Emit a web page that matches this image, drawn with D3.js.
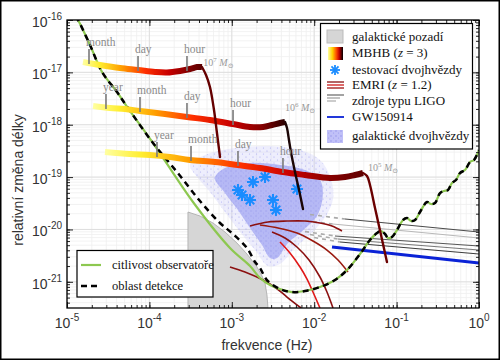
<!DOCTYPE html>
<html><head><meta charset="utf-8">
<script src="https://cdn.jsdelivr.net/npm/d3@7"></script>
<style>body{margin:0;background:#fff}svg{display:block}
.serif{font-family:"Liberation Serif","DejaVu Serif",serif}
.sans{font-family:"Liberation Sans","DejaVu Sans",sans-serif}
</style>
</head><body>
<svg id="c" width="500" height="360"></svg>
<script>
// ---------- data (log10 frequency [Hz], log10 strain) ----------
const xTickExps=[-5,-4,-3,-2,-1,0];
const yTickExps=[-16,-17,-18,-19,-20,-21];

const sensitivity=[[-4.90,-15.93],[-4.867,-16.000],[-4.721,-16.477],[-4.575,-16.993],[-4.393,-17.375],[-4.260,-17.681],[-3.956,-18.349],[-3.471,-19.476],[-3.022,-20.354],[-2.779,-20.698],[-2.658,-20.927],[-2.536,-21.061],[-2.379,-21.157],[-2.269,-21.195],[-2.112,-21.176],[-1.930,-21.099],[-1.748,-20.966],[-1.602,-20.775],[-1.444,-20.469],[-1.323,-20.202],[-1.238,-20.068],[-1.189,-20.030],[-1.141,-20.087],[-1.104,-20.163],[-1.056,-20.144],[-0.995,-20.011],[-0.922,-19.820],[-0.874,-19.781],[-0.825,-19.839],[-0.777,-19.820],[-0.716,-19.667],[-0.631,-19.476],[-0.583,-19.514],[-0.534,-19.495],[-0.473,-19.304],[-0.425,-19.266],[-0.376,-19.247],[-0.328,-19.113],[-0.279,-19.056],[-0.231,-18.922],[-0.170,-18.865],[-0.109,-18.712],[-0.061,-18.674],[0,-18.483]];

const detection=[[-4.90,-15.93],[-4.867,-16.000],[-4.721,-16.477],[-4.575,-16.993],[-4.393,-17.375],[-4.260,-17.681],[-3.956,-18.349],[-3.665,-18.903],[-3.386,-19.457],[-3.143,-19.877],[-2.985,-20.087],[-2.816,-20.354],[-2.718,-20.622],[-2.658,-20.736],[-2.573,-20.966],[-2.415,-21.137],[-2.269,-21.195],[-2.112,-21.176],[-1.930,-21.099],[-1.748,-20.966],[-1.602,-20.775],[-1.444,-20.469],[-1.323,-20.202],[-1.238,-20.068],[-1.189,-20.030],[-1.141,-20.087],[-1.104,-20.163],[-1.056,-20.144],[-0.995,-20.011],[-0.922,-19.820],[-0.874,-19.781],[-0.825,-19.839],[-0.777,-19.820],[-0.716,-19.667],[-0.631,-19.476],[-0.583,-19.514],[-0.534,-19.495],[-0.473,-19.304],[-0.425,-19.266],[-0.376,-19.247],[-0.328,-19.113],[-0.279,-19.056],[-0.231,-18.922],[-0.170,-18.865],[-0.109,-18.712],[-0.061,-18.674],[0,-18.483]];

const galacticBackground=[[-3.532,-19.667],[-3.386,-19.743],[-3.228,-19.877],[-3.083,-20.049],[-2.937,-20.259],[-2.816,-20.469],[-2.694,-20.717],[-2.633,-20.889],[-2.597,-21.023],[-2.573,-21.252],[-2.561,-21.500]];

const binaryCore=[[-3.204,-19.018],[-3.083,-18.827],[-2.779,-18.731],[-2.415,-18.769],[-2.112,-18.865],[-1.930,-19.056],[-1.895,-19.342],[-1.960,-19.724],[-2.130,-20.011],[-2.318,-20.259],[-2.451,-20.545],[-2.536,-20.545],[-2.633,-20.297],[-2.779,-19.973],[-2.925,-19.629],[-3.083,-19.304]];
const binaryHalo=[[-3.507,-18.769],[-3.325,-18.578],[-2.961,-18.445],[-2.536,-18.406],[-2.172,-18.483],[-1.930,-18.674],[-1.800,-19.018],[-1.770,-19.400],[-1.850,-19.724],[-2.020,-20.049],[-2.233,-20.354],[-2.415,-20.660],[-2.561,-20.698],[-2.718,-20.393],[-2.900,-20.049],[-3.083,-19.667],[-3.265,-19.285],[-3.410,-19.018]];

const verificationBinaries=[[-2.743,-19.094],[-2.597,-18.998],[-2.925,-19.247],[-2.876,-19.342],[-2.779,-19.438],[-2.500,-19.438],[-2.464,-19.629],[-2.209,-19.228]];

const mbhbInspiral1=[[-4.806,-16.802],[-4.600,-16.859],[-4.357,-16.917],[-4.138,-16.955],[-3.932,-16.993],[-3.786,-17.003],[-3.629,-16.974],[-3.507,-16.936],[-3.422,-16.898],[-3.362,-16.898]];
const mbhbMerger1=[[-3.362,-16.898],[-3.313,-17.050],[-3.265,-17.280],[-3.216,-17.719],[-3.180,-18.158],[-3.143,-18.616]];
const mbhbInspiral2=[[-4.684,-17.642],[-4.478,-17.681],[-4.296,-17.700],[-4.114,-17.738],[-3.811,-17.795],[-3.544,-17.853],[-3.265,-17.910],[-2.985,-17.986],[-2.779,-18.044],[-2.621,-18.044],[-2.512,-18.005],[-2.415,-17.967],[-2.354,-17.948]];
const mbhbMerger2=[[-2.354,-17.948],[-2.330,-18.063],[-2.306,-18.292],[-2.282,-18.521],[-2.233,-18.903],[-2.184,-19.247],[-2.136,-19.610]];
const mbhbInspiral3=[[-4.539,-18.521],[-4.235,-18.559],[-3.993,-18.578],[-3.750,-18.616],[-3.507,-18.674],[-3.204,-18.712],[-2.925,-18.769],[-2.658,-18.827],[-2.379,-18.903],[-2.112,-18.960],[-1.808,-19.018],[-1.626,-18.998],[-1.505,-18.960],[-1.408,-18.922]];
const mbhbMerger3=[[-1.408,-18.922],[-1.359,-18.979],[-1.323,-19.151],[-1.262,-19.591],[-1.189,-20.106],[-1.117,-20.622]];

const timeLabels1=[["month",-4.733,-16.821],["day",-4.138,-16.955],["hour",-3.544,-16.955]];
const timeLabels2=[["year",-4.527,-17.681],["month",-4.114,-17.738],["day",-3.544,-17.853],["hour",-2.985,-17.986]];
const timeLabels3=[["year",-3.908,-18.597],["month",-3.495,-18.674],["day",-2.925,-18.769],["hour",-2.379,-18.903]];
const massLabels=[["7",-3.345,-16.88],["6",-2.354,-17.74],["5",-1.347,-18.88]];

const emri1=[[-2.779,-19.934],[-2.561,-19.858],[-2.330,-19.839],[-2.112,-19.839],[-1.930,-19.877],[-1.784,-19.934],[-1.663,-20.030]];
const emri2=[[-2.658,-19.915],[-2.439,-19.973],[-2.209,-20.068],[-2.015,-20.221],[-1.845,-20.393],[-1.711,-20.584],[-1.590,-20.813]];
const emri3=[[-2.512,-20.049],[-2.354,-20.163],[-2.209,-20.335],[-2.063,-20.584],[-1.930,-20.908],[-1.845,-21.195],[-1.772,-21.500]];
const emri4=[[-2.415,-20.240],[-2.294,-20.450],[-2.172,-20.717],[-2.087,-20.947],[-2.015,-21.195],[-1.930,-21.500]];
const emri5=[[-3.022,-20.717],[-2.840,-20.813],[-2.621,-20.966],[-2.464,-21.118],[-2.330,-21.290],[-2.160,-21.500]];

// LIGO-type sources: [dash start, solid start, end]
const ligo1=[[-2.050,-19.715],[-1.626,-19.801],[0,-20.049]];
const ligo2=[[-2.112,-19.830],[-1.772,-19.896],[0,-20.163]];
const ligo3=[[-2.112,-20.040],[-1.748,-20.125],[0,-20.316]];
const ligo4=[[-2.051,-20.097],[-1.711,-20.183],[0,-20.393]];
const ligo5=[[-2.000,-20.154],[-1.687,-20.240],[0,-20.469]];
const gw150914=[[-1.784,-20.335],[0,-20.641]];

const legendLabels=["galaktické pozadí","MBHB","testovací dvojhvězdy","EMRI","zdroje typu LIGO","GW150914","galaktické dvojhvězdy"];
const legend2Labels=["citlivost observatoře","oblast detekce"];

// ---------- drawing ----------
const svg=d3.select("#c");
const L=67,R=479,T=20,B=308;
const x=d3.scaleLog().domain([1e-5,1]).range([L,R]);
const y=d3.scaleLog().domain([Math.pow(10,-21.5),1e-16]).range([B,T]);
const X=d=>x(Math.pow(10,d[0])), Y=d=>y(Math.pow(10,d[1]));
const cr=d3.line().x(X).y(Y).curve(d3.curveCatmullRom.alpha(0.5));
const lin=d3.line().x(X).y(Y);
const closed=d3.line().x(X).y(Y).curve(d3.curveCatmullRomClosed.alpha(0.5));

const defs=svg.append("defs");
defs.append("clipPath").attr("id","clip").append("rect").attr("x",L).attr("y",T).attr("width",R-L).attr("height",B-T);
const pat=defs.append("pattern").attr("id","dots").attr("patternUnits","userSpaceOnUse").attr("width",5).attr("height",5);
pat.append("circle").attr("cx",1).attr("cy",1).attr("r",0.7).attr("fill","#8c8ce6");
pat.append("circle").attr("cx",3.5).attr("cy",3).attr("r",0.6).attr("fill","#9a9aee");
const pat2=defs.append("pattern").attr("id","sparse").attr("patternUnits","userSpaceOnUse").attr("width",7).attr("height",6);
pat2.append("circle").attr("cx",1).attr("cy",1).attr("r",0.6).attr("fill","#a3a3ee");
pat2.append("circle").attr("cx",4.5).attr("cy",4).attr("r",0.6).attr("fill","#b0b0f2");

const stops=[[0,"#ffffa0"],[0.14,"#ffee30"],[0.32,"#ffa000"],[0.52,"#ff3000"],[0.72,"#c80000"],[0.88,"#850000"],[1,"#520000"]];
function grad(id,data,endCol){
  const g=defs.append("linearGradient").attr("id",id).attr("gradientUnits","userSpaceOnUse")
    .attr("x1",X(data[0])).attr("x2",X(data[data.length-1])).attr("y1",0).attr("y2",0);
  stops.forEach((s,i)=>g.append("stop").attr("offset",s[0]).attr("stop-color",i===stops.length-1&&endCol?endCol:s[1]));
}
grad("g1",mbhbInspiral1,"#5a0000");
grad("g2",mbhbInspiral2,"#2a0000");
grad("g3",mbhbInspiral3,"#600000");
const lgG=defs.append("linearGradient").attr("id","glg");
[[0,"#ffffa0"],[0.3,"#ffd000"],[0.55,"#ff5000"],[0.75,"#c00000"],[1,"#000"]].forEach(s=>lgG.append("stop").attr("offset",s[0]).attr("stop-color",s[1]));

svg.append("rect").attr("width",500).attr("height",360).attr("fill","#fff");

// grid
const grid=svg.append("g");
const xt=x.ticks(), yt=y.ticks();
grid.selectAll(".vx").data(xt).join("line").attr("x1",d=>x(d)).attr("x2",d=>x(d)).attr("y1",T).attr("y2",B).attr("stroke","#efefef").attr("stroke-width",0.8);
grid.selectAll(".hy").data(yt).join("line").attr("y1",d=>y(d)).attr("y2",d=>y(d)).attr("x1",L).attr("x2",R).attr("stroke","#efefef").attr("stroke-width",0.8);
grid.selectAll(".vX").data(xTickExps).join("line").attr("x1",d=>x(Math.pow(10,d))).attr("x2",d=>x(Math.pow(10,d))).attr("y1",T).attr("y2",B).attr("stroke","#dcdcdc").attr("stroke-width",0.9);
grid.selectAll(".hY").data(yTickExps).join("line").attr("y1",d=>y(Math.pow(10,d))).attr("y2",d=>y(Math.pow(10,d))).attr("x1",L).attr("x2",R).attr("stroke","#dcdcdc").attr("stroke-width",0.9);

const plot=svg.append("g").attr("clip-path","url(#clip)");

// galactic background
plot.append("path")
  .attr("d","M"+X(galacticBackground[0])+","+B+"L"+lin(galacticBackground).slice(1)+"Z")
  .attr("fill","#d6d6d6").attr("stroke","#a8a8a8").attr("stroke-width",0.8);

// galactic binaries
plot.append("path").attr("d",closed(binaryHalo)).attr("fill","#c8c8fa").attr("opacity",0.3);
plot.append("path").attr("d",closed(binaryHalo)).attr("fill","url(#sparse)");
plot.append("path").attr("d",closed(binaryCore)).attr("fill","#afb2f4").attr("opacity",0.9);
plot.append("path").attr("d",closed(binaryCore)).attr("fill","url(#dots)").attr("opacity",0.6);

// LIGO sources
const ligoCols=["#4a4a4a","#b8b8b8","#555","#777","#3c3c3c"];
[ligo1,ligo2,ligo3,ligo4,ligo5].forEach((l,i)=>{
  plot.append("path").attr("d",lin([l[0],l[1]])).attr("fill","none").attr("stroke","#aaa").attr("stroke-width",1.6).attr("stroke-dasharray","4,4");
  plot.append("path").attr("d",lin([l[1],l[2]])).attr("fill","none").attr("stroke",ligoCols[i]).attr("stroke-width",1.1);
});
plot.append("path").attr("d",lin(gw150914)).attr("fill","none").attr("stroke","#0a22d6").attr("stroke-width",3.2);

// EMRI
const emriCols=["#8b1010","#9a1a10","#8b1010","#e01818","#8b1010"];
[emri1,emri2,emri3,emri4,emri5].forEach((e,i)=>{
  plot.append("path").attr("d",cr(e)).attr("fill","none").attr("stroke",emriCols[i]).attr("stroke-width",1.6);
});

// sensitivity + detection
plot.append("path").attr("d",cr(sensitivity)).attr("fill","none").attr("stroke","#8dc850").attr("stroke-width",2.2);
plot.append("path").attr("d",cr(detection)).attr("fill","none").attr("stroke","#000").attr("stroke-width",2.5).attr("stroke-dasharray","6,4.5");

// verification binaries
const ast=plot.append("g");
verificationBinaries.forEach(d=>{
  const cx=X(d),cy=Y(d),r=6;
  [0,45,90,135].forEach(a=>{
    const rad=a*Math.PI/180;
    ast.append("line").attr("x1",cx-r*Math.cos(rad)).attr("y1",cy-r*Math.sin(rad)).attr("x2",cx+r*Math.cos(rad)).attr("y2",cy+r*Math.sin(rad))
      .attr("stroke","#1a8cff").attr("stroke-width",2);
  });
});

// MBHB tracks
const tracks=[[mbhbInspiral3,mbhbMerger3,"g3","#6a0000"],[mbhbInspiral2,mbhbMerger2,"g2","#1a0505"],[mbhbInspiral1,mbhbMerger1,"g1","#650000"]];
tracks.forEach(t=>{
  plot.append("path").attr("d",cr(t[1])).attr("fill","none").attr("stroke",t[3]).attr("stroke-width",2.4).attr("stroke-linecap","round");
  plot.append("path").attr("d",cr(t[0])).attr("fill","none").attr("stroke","url(#"+t[2]+")").attr("stroke-width",6);
});

// time ticks on tracks
const tl=svg.append("g");
[timeLabels1,timeLabels2,timeLabels3].forEach(arr=>arr.forEach(d=>{
  const px=x(Math.pow(10,d[1])), py=y(Math.pow(10,d[2]));
  tl.append("line").attr("x1",px).attr("x2",px).attr("y1",py+1).attr("y2",py-14).attr("stroke","#7a7a7a").attr("stroke-width",1.6);
  tl.append("text").attr("class","serif").attr("x",px-3).attr("y",py-17).text(d[0]).attr("font-size",11.5).attr("fill","#8a8a8a");
}));
massLabels.forEach(d=>{
  const t=tl.append("text").attr("class","serif").attr("x",x(Math.pow(10,d[1]))).attr("y",y(Math.pow(10,d[2]))).attr("font-size",10).attr("fill","#9a9a9a");
  t.append("tspan").text("10");
  t.append("tspan").attr("dy",-4).attr("font-size",7).text(d[0]);
  t.append("tspan").attr("dy",4).attr("font-style","italic").text(" M");
  t.append("tspan").attr("dy",2).attr("font-size",7).text("⊙");
});

// frame & ticks
const ax=svg.append("g").attr("color","#222");
function ticks(gen,tr,vals,size){
  ax.append("g").attr("transform",tr).call(gen.tickValues(vals).tickSize(size).tickFormat("")).call(g=>g.select(".domain").remove());
}
const majX=xTickExps.map(e=>Math.pow(10,e)), majY=yTickExps.map(e=>Math.pow(10,e));
ticks(d3.axisBottom(x),`translate(0,${B})`,xt,-3); ticks(d3.axisBottom(x),`translate(0,${B})`,majX,-6);
ticks(d3.axisTop(x),`translate(0,${T})`,xt,-3); ticks(d3.axisTop(x),`translate(0,${T})`,majX,-6);
ticks(d3.axisLeft(y),`translate(${L},0)`,yt,-3); ticks(d3.axisLeft(y),`translate(${L},0)`,majY,-6);
ticks(d3.axisRight(y),`translate(${R},0)`,yt,-3); ticks(d3.axisRight(y),`translate(${R},0)`,majY,-6);
svg.append("rect").attr("x",L).attr("y",T).attr("width",R-L).attr("height",B-T).attr("fill","none").attr("stroke","#000").attr("stroke-width",1.3);

// tick labels
xTickExps.forEach(e=>{
  const t=svg.append("text").attr("class","sans").attr("x",x(Math.pow(10,e))).attr("y",328).attr("text-anchor","middle").attr("font-size",14).attr("fill","#333");
  t.append("tspan").text("10"); t.append("tspan").attr("dy",-7).attr("font-size",10).text(e);
});
yTickExps.forEach(e=>{
  const t=svg.append("text").attr("class","sans").attr("x",62).attr("y",y(Math.pow(10,e))+7).attr("text-anchor","end").attr("font-size",14).attr("fill","#333");
  t.append("tspan").text("10"); t.append("tspan").attr("dy",-7).attr("font-size",10).text(e);
});
svg.append("text").attr("class","sans").attr("x",267).attr("y",350).attr("text-anchor","middle").attr("font-size",14).attr("fill","#333").text("frekvence (Hz)");
svg.append("text").attr("class","sans").attr("transform","translate(23,180) rotate(-90)").attr("text-anchor","middle").attr("font-size",14).attr("fill","#333").text("relativní změna délky");

// legend 1
const lg=svg.append("g");
lg.append("rect").attr("x",320.5).attr("y",23.5).attr("width",152).attr("height",125.5).attr("fill","#fff").attr("stroke","#000").attr("stroke-width",1.2);
const base=[41,57,73.5,89,104.5,121,140];
legendLabels.forEach((s,i)=>{
  const t=lg.append("text").attr("class","serif").attr("x",352).attr("y",base[i]).attr("font-size",13).attr("fill","#111").text(s);
  if(i===1){t.append("tspan").text(" (");t.append("tspan").attr("font-style","italic").text("z");t.append("tspan").text(" = 3)");}
  if(i===3){t.append("tspan").text(" (");t.append("tspan").attr("font-style","italic").text("z");t.append("tspan").text(" = 1.2)");}
});
lg.append("rect").attr("x",327).attr("y",30).attr("width",16).attr("height",13).attr("fill","#d6d6d6").attr("stroke","#bbb");
lg.append("rect").attr("x",328).attr("y",47).attr("width",15).attr("height",13).attr("fill","url(#glg)");
{const cx=335,cy=70,r=5;[0,45,90,135].forEach(a=>{const rad=a*Math.PI/180;lg.append("line").attr("x1",cx-r*Math.cos(rad)).attr("y1",cy-r*Math.sin(rad)).attr("x2",cx+r*Math.cos(rad)).attr("y2",cy+r*Math.sin(rad)).attr("stroke","#1a8cff").attr("stroke-width",1.8);});}
[[82,"#8b1010"],[85,"#d01818"],[88,"#a01010"]].forEach(d=>lg.append("line").attr("x1",327).attr("x2",344).attr("y1",d[0]).attr("y2",d[0]).attr("stroke",d[1]).attr("stroke-width",1.3));
[[95,344,"#666"],[98,340,"#999"],[101,336,"#aaa"]].forEach(d=>lg.append("line").attr("x1",327).attr("x2",d[1]).attr("y1",d[0]).attr("y2",d[0]).attr("stroke",d[2]).attr("stroke-width",1.2));
lg.append("line").attr("x1",327).attr("x2",344).attr("y1",117).attr("y2",117).attr("stroke","#0a22d6").attr("stroke-width",1.8);
lg.append("rect").attr("x",327).attr("y",130).attr("width",16).attr("height",13).attr("fill","#c0c0f8");
lg.append("rect").attr("x",327).attr("y",130).attr("width",16).attr("height",13).attr("fill","url(#dots)");

// legend 2
const lg2=svg.append("g");
lg2.append("rect").attr("x",77).attr("y",250.5).attr("width",136).attr("height",46.5).attr("fill","#fff").attr("stroke","#000").attr("stroke-width",1.2);
lg2.append("line").attr("x1",81).attr("x2",101).attr("y1",265).attr("y2",265).attr("stroke","#8dc850").attr("stroke-width",2.2);
lg2.append("line").attr("x1",81).attr("x2",101).attr("y1",286).attr("y2",286).attr("stroke","#000").attr("stroke-width",2.5).attr("stroke-dasharray","6,4");
legend2Labels.forEach((s,i)=>lg2.append("text").attr("class","serif").attr("x",112).attr("y",[269,290][i]).attr("font-size",12.5).attr("fill","#111").text(s));

// outer frame
svg.append("rect").attr("x",0.75).attr("y",0.75).attr("width",498.5).attr("height",358.5).attr("fill","none").attr("stroke","#000").attr("stroke-width",1.5);
</script>
</body></html>
